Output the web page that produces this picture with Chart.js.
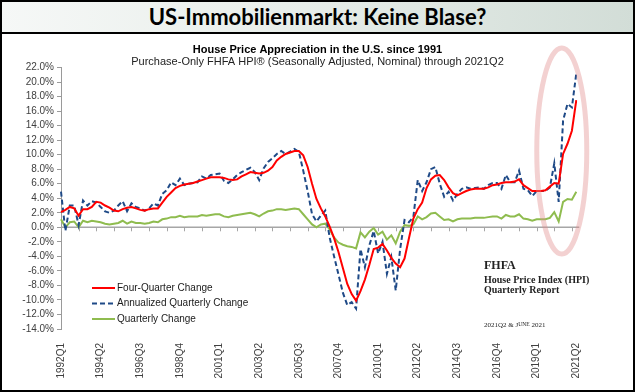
<!DOCTYPE html>
<html><head><meta charset="utf-8">
<script src="https://cdn.jsdelivr.net/npm/chart.js@4/dist/chart.umd.min.js"></script>
<style>
html,body{margin:0;padding:0;background:#fff;}
#wrap{position:relative;width:635px;height:392px;overflow:hidden;background:#fff;}
#band{position:absolute;left:0;top:0;width:635px;height:34px;box-sizing:border-box;border-bottom:2px solid #000;background:linear-gradient(to right,#f6f8f7 0%,#e8eeea 45%,#d2ddd7 100%);font-family:Lato,"Open Sans",sans-serif;font-weight:bold;font-size:22px;line-height:33px;text-align:center;color:#000;}
#frame{position:absolute;left:0;top:0;width:635px;height:392px;box-sizing:border-box;border:2px solid #000;pointer-events:none;}
canvas{position:absolute;left:0;top:0;}
</style></head>
<body><div id="wrap"><canvas id="c" width="635" height="392"></canvas><div id="band">US-Immobilienmarkt: Keine Blase?</div><div id="frame"></div></div>
<script>
const chartTitle = 'House Price Appreciation in the U.S. since 1991';
const chartSubtitle = 'Purchase-Only FHFA HPI\u00AE (Seasonally Adjusted, Nominal) through 2021Q2';
const seriesNames = ['Four-Quarter Change', 'Annualized Quarterly Change', 'Quarterly Change'];

// categories: 1992Q1 .. 2021Q2
const quarters = [];
for (let yr = 1992; yr <= 2021; yr++) for (let q = 1; q <= 4; q++) { if (yr === 2021 && q > 2) break; quarters.push(yr + 'Q' + q); }

const fourQuarter = [
 2.1, 2.4, 2.8, 2.6, 1.6, 2.5, 2.5, 2.8, 3.5, 3.4,
 3.0, 2.7, 2.3, 2.2, 2.5, 2.7, 2.8, 2.6, 2.4, 2.3,
 2.5, 2.6, 2.6, 3.4, 4.2, 4.8, 5.4, 5.7, 5.9, 6.0,
 6.1, 6.3, 6.5, 6.7, 6.9, 6.9, 6.9, 6.8, 6.6, 6.5,
 6.6, 7.0, 7.3, 7.6, 7.5, 7.4, 7.5, 7.8, 8.3, 9.2,
 9.7, 10.1, 10.3, 10.5, 10.5, 9.9, 8.3, 6.0, 3.9, 2.6,
 1.5, 0.1, -1.5, -3.4, -5.6, -7.8, -9.2, -10.1, -8.8, -7.2,
 -5.2, -3.0, -2.8, -2.3, -3.2, -4.2, -5.0, -5.5, -4.3, -1.5,
 1.2, 2.5, 3.4, 5.4, 6.6, 7.1, 7.2, 6.5, 5.5, 4.7,
 4.4, 4.7, 5.0, 5.2, 5.3, 5.3, 5.3, 5.5, 5.8, 5.9,
 6.1, 6.2, 6.2, 6.3, 6.6, 5.8, 5.4, 5.0, 5.0, 5.0,
 5.1, 5.6, 6.1, 6.0, 10.1, 11.5, 13.3, 17.5
];
const annualized = [
 4.9, -0.5, 3.0, 3.0, 0.3, 3.7, 3.0, 3.6, 3.4, 2.8,
 2.2, 2.0, 2.3, 3.0, 3.6, 2.2, 3.3, 2.8, 2.6, 2.3,
 2.6, 3.3, 3.0, 4.6, 5.1, 6.2, 5.8, 6.7, 5.8, 6.0,
 6.1, 6.2, 7.0, 6.7, 7.2, 7.3, 7.4, 6.4, 6.1, 6.6,
 7.2, 7.6, 7.9, 8.2, 7.6, 6.5, 8.1, 9.0, 9.5, 10.1,
 10.5, 10.1, 10.4, 10.8, 10.4, 7.8, 5.0, 1.8, 0.8, 1.6,
 2.3, -1.4, -4.0, -6.5, -9.0, -10.7, -10.3, -11.2, -3.0, -5.5,
 -2.5, -0.5, -3.6, -2.0, -6.4, -4.1, -8.7, -3.0, 1.0, 0.7,
 1.4, 6.5, 5.0, 6.2, 8.0, 8.3, 6.0, 4.2, 4.9, 3.7,
 4.6, 5.3, 5.5, 5.3, 5.4, 5.5, 5.3, 5.8, 6.1, 6.1,
 5.3, 7.2, 6.2, 6.2, 7.8, 5.3, 5.1, 4.3, 5.0, 5.0,
 5.0, 5.5, 8.8, 3.5, 14.7, 17.0, 16.5, 21.2
];
const quarterly = [
 1.1, 0.0, 0.7, 0.8, 0.0, 0.9, 0.7, 0.9, 0.8, 0.7,
 0.5, 0.4, 0.5, 0.6, 0.9, 0.5, 0.8, 0.6, 0.6, 0.5,
 0.6, 0.8, 0.7, 1.1, 1.2, 1.4, 1.4, 1.6, 1.4, 1.5,
 1.5, 1.5, 1.7, 1.6, 1.7, 1.8, 1.8, 1.5, 1.4, 1.6,
 1.7, 1.8, 1.9, 2.0, 1.8, 1.5, 1.9, 2.2, 2.3, 2.5,
 2.5, 2.4, 2.5, 2.6, 2.5, 1.8, 1.1, 0.4, 0.0, 0.4,
 0.5, -0.3, -1.4, -2.1, -2.4, -2.6, -2.7, -2.9, -0.7, -1.4,
 -0.6, -0.1, -1.0, -0.6, -1.7, -1.1, -2.2, -0.6, 0.3, 0.2,
 0.4, 1.5, 1.1, 1.4, 1.9, 2.0, 1.5, 1.0, 1.1, 0.8,
 1.1, 1.2, 1.2, 1.2, 1.3, 1.3, 1.3, 1.4, 1.5, 1.5,
 1.2, 1.7, 1.5, 1.5, 1.8, 1.2, 1.1, 0.9, 1.1, 1.1,
 1.1, 1.3, 2.1, 0.8, 3.5, 3.9, 3.8, 4.9
];
const yMin = -14, yMax = 22, yStep = 2;
const labelEvery = 9, tickEvery = 4;
const reportLines = ['FHFA', 'House Price Index (HPI)', 'Quarterly Report'];

const SANS = 'Arial, "Liberation Sans", sans-serif';
const SERIF = '"Times New Roman", "Liberation Serif", serif';

const overlay = {
  id: 'overlay',
  beforeDatasetsDraw(chart) {
    const {ctx, scales: {x, y}, chartArea} = chart;
    const y0 = y.getPixelForValue(0);
    ctx.save();
    ctx.strokeStyle = '#a6a6a6';
    ctx.lineWidth = 1.5;
    ctx.beginPath(); ctx.moveTo(chartArea.left, y0); ctx.lineTo(chartArea.right + 3, y0); ctx.stroke();
    ctx.lineWidth = 1;
    for (let i = 0; i < quarters.length; i += tickEvery) {
      const px = Math.round(x.getPixelForValue(i)) + 0.5;
      ctx.beginPath(); ctx.moveTo(px, y0); ctx.lineTo(px, y0 + 4); ctx.stroke();
    }
    ctx.restore();
  },
  afterDraw(chart) {
    const {ctx, scales: {x, y}} = chart;
    ctx.save();
    // highlight ellipse
    ctx.strokeStyle = 'rgba(225,140,140,0.4)';
    ctx.lineWidth = 5;
    ctx.beginPath();
    ctx.ellipse(x.getPixelForValue(113.7), y.getPixelForValue(10.5), 25, 103, 0, 0, Math.PI * 2);
    ctx.stroke();
    // legend
    chart.data.datasets.forEach((ds, i) => {
      const ly = 288 + i * 15.5;
      ctx.strokeStyle = ds.borderColor;
      ctx.lineWidth = ds.borderWidth;
      ctx.setLineDash(ds.borderDash || []);
      ctx.beginPath(); ctx.moveTo(92, ly); ctx.lineTo(115, ly); ctx.stroke();
      ctx.setLineDash([]);
      ctx.fillStyle = '#1a1a1a';
      ctx.font = '10px ' + SANS;
      ctx.textBaseline = 'middle';
      ctx.textAlign = 'left';
      ctx.fillText(ds.label, 117, ly);
    });
    // report note
    ctx.fillStyle = '#222';
    ctx.textBaseline = 'middle';
    ctx.font = 'bold 12px ' + SERIF;
    ctx.fillText(reportLines[0], 484, 266);
    ctx.font = 'bold 10px ' + SERIF;
    ctx.fillText(reportLines[1], 484, 280);
    ctx.fillText(reportLines[2], 484, 290);
    let tx = 484;
    [['2021Q2 & J', 7], ['UNE', 5.6], [' 2021', 7]].forEach(([t, s]) => {
      ctx.font = s + 'px ' + SERIF;
      ctx.fillText(t, tx, 325);
      tx += ctx.measureText(t).width;
    });
    ctx.restore();
  }
};

new Chart(document.getElementById('c'), {
  type: 'line',
  data: {
    labels: quarters,
    datasets: [
      {label: seriesNames[0], data: fourQuarter, borderColor: '#ff0000', borderWidth: 2},
      {label: seriesNames[1], data: annualized, borderColor: '#1f4a87', borderWidth: 2, borderDash: [5, 3]},
      {label: seriesNames[2], data: quarterly, borderColor: '#8fbc4f', borderWidth: 2}
    ]
  },
  options: {
    responsive: false,
    animation: false,
    devicePixelRatio: 1,
    elements: {point: {radius: 0}, line: {tension: 0}},
    layout: {padding: {left: 0, right: 0, top: 0, bottom: 0}},
    plugins: {
      legend: {display: false},
      tooltip: {enabled: false},
      title: {display: true, text: chartTitle, color: '#000', font: {family: SANS, size: 11, weight: 'bold', lineHeight: 1}, padding: {top: 44, bottom: 0}},
      subtitle: {display: true, text: chartSubtitle, color: '#222', font: {family: SANS, size: 11, lineHeight: 1}, padding: {top: 1.5, bottom: 0}}
    },
    scales: {
      x: {
        type: 'category',
        grid: {display: false, drawTicks: false},
        border: {display: false},
        ticks: {autoSkip: false, minRotation: 90, maxRotation: 90, padding: 14, color: '#404040', font: {family: SANS, size: 10},
          callback: (v, i) => (i % labelEvery === 0 ? quarters[i] : '')},
        afterFit: s => { s.height = 63; }
      },
      y: {
        min: yMin, max: yMax,
        ticks: {stepSize: yStep, autoSkip: false, color: '#404040', padding: 3, font: {family: SANS, size: 10},
          callback: v => v.toFixed(1) + '%'},
        grid: {drawOnChartArea: false, drawTicks: true, tickLength: 4, tickColor: '#9a9a9a'},
        border: {display: true, color: '#9a9a9a', width: 1},
        afterFit: s => { s.width = 61; }
      },
      yRight: {
        position: 'right',
        min: yMin, max: yMax,
        ticks: {display: false},
        grid: {display: false},
        border: {display: false},
        afterFit: s => { s.width = 58.7; }
      }
    }
  },
  plugins: [overlay]
});
</script>
</body></html>
